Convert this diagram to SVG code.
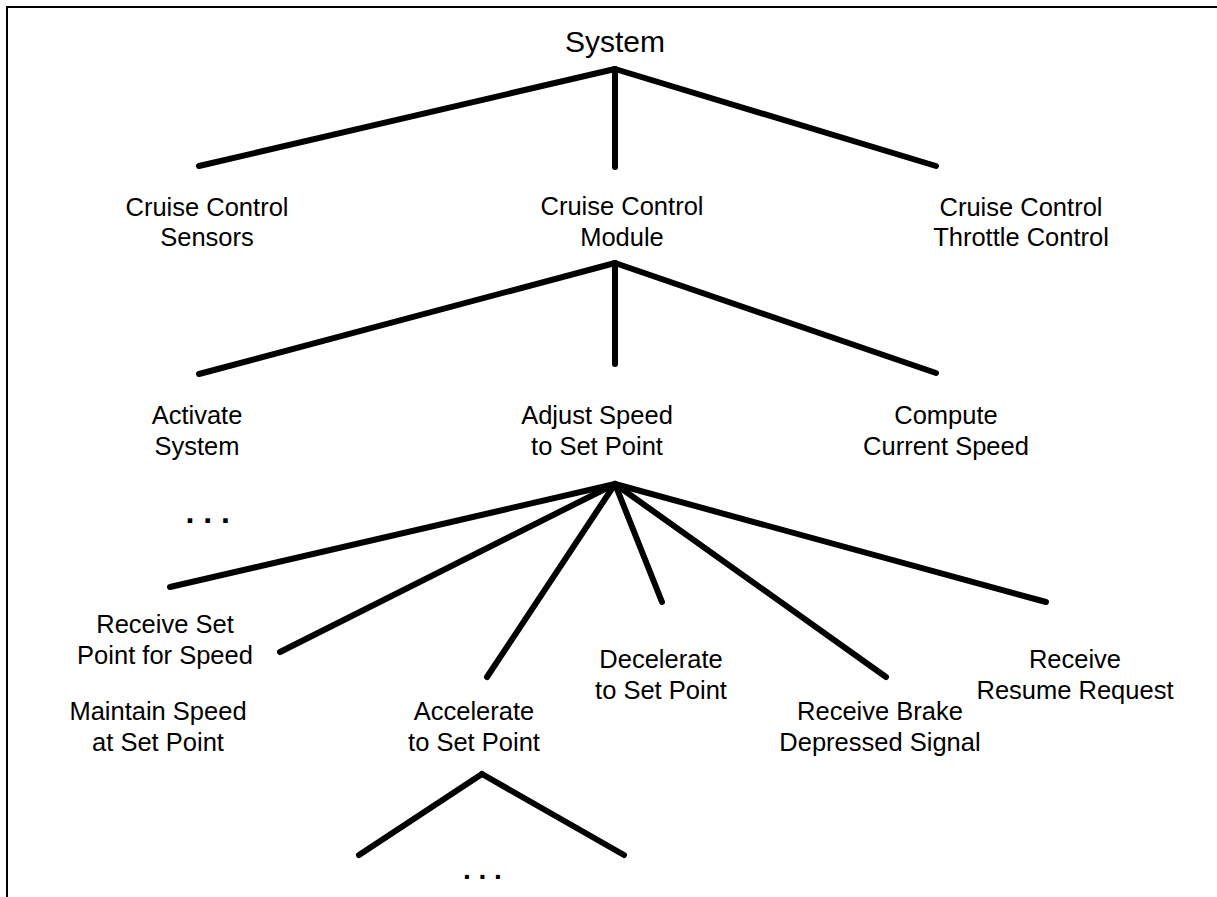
<svg xmlns="http://www.w3.org/2000/svg" width="1217" height="897" viewBox="0 0 1217 897">
  <style>
    .lbl { font-family: "Liberation Sans", Arial, sans-serif; font-size: 25.5px; fill: #000; text-anchor: middle; }
    .root { font-family: "Liberation Sans", Arial, sans-serif; font-size: 30px; fill: #000; text-anchor: middle; }
    .dots { font-family: "Liberation Sans", Arial, sans-serif; font-weight: bold; fill: #000; }
    .edge { stroke: #000; stroke-width: 6; stroke-linecap: round; fill: none; }
    .frame { stroke: #000; stroke-width: 2; fill: none; }
  </style>
  <rect width="1217" height="897" fill="#fff"/>
  <!-- frame: top and left rules only -->
  <path class="frame" d="M7,897 L7,7 L1217,7"/>

  <g id="connectors">
    <!-- System -->
    <line class="edge" x1="615" y1="69" x2="199" y2="166"/>
    <line class="edge" x1="615" y1="69" x2="615" y2="167"/>
    <line class="edge" x1="615" y1="69" x2="936" y2="166"/>
    <!-- Cruise Control Module -->
    <line class="edge" x1="615" y1="263" x2="199" y2="374"/>
    <line class="edge" x1="615" y1="263" x2="615" y2="364"/>
    <line class="edge" x1="615" y1="263" x2="936" y2="373"/>
    <!-- Adjust Speed to Set Point -->
    <line class="edge" x1="615" y1="484" x2="170" y2="587"/>
    <line class="edge" x1="615" y1="484" x2="280" y2="652"/>
    <line class="edge" x1="615" y1="484" x2="487" y2="677"/>
    <line class="edge" x1="615" y1="484" x2="662" y2="602"/>
    <line class="edge" x1="615" y1="484" x2="886" y2="677"/>
    <line class="edge" x1="615" y1="484" x2="1046" y2="602"/>
    <!-- Accelerate to Set Point -->
    <line class="edge" x1="482" y1="774" x2="359" y2="855"/>
    <line class="edge" x1="482" y1="774" x2="624" y2="855"/>
  </g>

  <g id="system"><text class="root" x="615" y="52">System</text></g>

  <g id="cc-sensors">
    <text class="lbl" x="207" y="216">Cruise Control</text>
    <text class="lbl" x="207" y="246">Sensors</text>
  </g>
  <g id="cc-module">
    <text class="lbl" x="622" y="215">Cruise Control</text>
    <text class="lbl" x="622" y="246">Module</text>
  </g>
  <g id="cc-throttle">
    <text class="lbl" x="1021" y="216">Cruise Control</text>
    <text class="lbl" x="1021" y="246">Throttle Control</text>
  </g>

  <g id="activate">
    <text class="lbl" x="197" y="424">Activate</text>
    <text class="lbl" x="197" y="455">System</text>
    <text class="dots" x="185.5" y="523" font-size="32">. . .</text>
  </g>
  <g id="adjust">
    <text class="lbl" x="597" y="424">Adjust Speed</text>
    <text class="lbl" x="597" y="455">to Set Point</text>
  </g>
  <g id="compute">
    <text class="lbl" x="946" y="424">Compute</text>
    <text class="lbl" x="946" y="455">Current Speed</text>
  </g>

  <g id="receive-set">
    <text class="lbl" x="165" y="633">Receive Set</text>
    <text class="lbl" x="165" y="664">Point for Speed</text>
  </g>
  <g id="maintain">
    <text class="lbl" x="158" y="720">Maintain Speed</text>
    <text class="lbl" x="158" y="751">at Set Point</text>
  </g>
  <g id="accelerate">
    <text class="lbl" x="474" y="720">Accelerate</text>
    <text class="lbl" x="474" y="751">to Set Point</text>
    <text class="dots" x="463" y="879" font-size="28">. . .</text>
  </g>
  <g id="decelerate">
    <text class="lbl" x="661" y="668">Decelerate</text>
    <text class="lbl" x="661" y="699">to Set Point</text>
  </g>
  <g id="receive-brake">
    <text class="lbl" x="880" y="720">Receive Brake</text>
    <text class="lbl" x="880" y="751">Depressed Signal</text>
  </g>
  <g id="receive-resume">
    <text class="lbl" x="1075" y="668">Receive</text>
    <text class="lbl" x="1075" y="699">Resume Request</text>
  </g>
</svg>
